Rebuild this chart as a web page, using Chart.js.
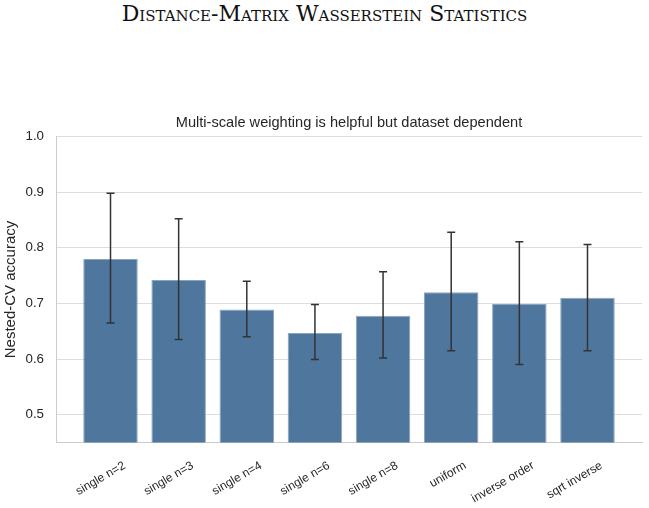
<!DOCTYPE html>
<html>
<head>
<meta charset="utf-8">
<script src="https://cdn.jsdelivr.net/npm/chart.js@4/dist/chart.umd.min.js"></script>
<style>
  body { margin: 0; background: #fff; }
  #wrap { position: relative; width: 649px; height: 508px; }
  #bigTitle {
    position: absolute; top: 1px; left: 0; width: 649px; text-align: center;
    font-family: "DejaVu Serif", "Liberation Serif", serif; font-variant: small-caps;
    font-size: 22px; color: #111;
  }
  canvas { position: absolute; top: 0; left: 0; }
</style>
</head>
<body>
<div id="wrap">
  <div id="bigTitle">Distance-Matrix Wasserstein Statistics</div>
  <canvas id="accChart" width="649" height="508"></canvas>
</div>
<script>
const categories = ['single n=2', 'single n=3', 'single n=4', 'single n=6', 'single n=8', 'uniform', 'inverse order', 'sqrt inverse'];
const accuracy = [0.780, 0.742, 0.689, 0.647, 0.678, 0.720, 0.699, 0.710];
const errLow = [0.665, 0.635, 0.640, 0.599, 0.602, 0.615, 0.590, 0.615];
const errHigh = [0.898, 0.852, 0.740, 0.698, 0.757, 0.828, 0.811, 0.806];
const yTicks = [0.5, 0.6, 0.7, 0.8, 0.9, 1.0];

// error bars drawn with the chart's own scales
const errorBars = {
    id: 'errorBars',
    afterDatasetsDraw(chart) {
        const ctx = chart.ctx;
        const x = chart.scales.x, y = chart.scales.y;
        ctx.save();
        ctx.strokeStyle = '#333333';
        ctx.lineWidth = 1.5;
        for (let i = 0; i < categories.length; i++) {
            const px = x.getPixelForValue(i);
            const lo = y.getPixelForValue(errLow[i]);
            const hi = y.getPixelForValue(errHigh[i]);
            ctx.beginPath();
            ctx.moveTo(px, lo); ctx.lineTo(px, hi);
            ctx.moveTo(px - 4, lo); ctx.lineTo(px + 4, lo);
            ctx.moveTo(px - 4, hi); ctx.lineTo(px + 4, hi);
            ctx.stroke();
        }
        ctx.restore();
    }
};

const ctx = document.getElementById('accChart').getContext('2d');
new Chart(ctx, {
    type: 'bar',
    data: {
        datasets: [{
            data: categories.map((c, i) => ({ x: i, y: accuracy[i] })),
            backgroundColor: '#4f769c',
            borderColor: '#8aa5c2',
            borderWidth: 1,
            categoryPercentage: 1,
            barPercentage: 0.8
        }]
    },
    plugins: [errorBars],
    options: {
        responsive: false,
        animation: false,
        layout: { padding: { top: 114, right: 7, left: 2, bottom: -6 } },
        plugins: {
            legend: { display: false },
            tooltip: { enabled: false },
            title: {
                display: true,
                fullSize: false,
                text: 'Multi-scale weighting is helpful but dataset dependent',
                color: '#262626',
                font: { family: 'Liberation Sans, Arial, sans-serif', size: 14.6, weight: 'normal' },
                padding: { top: 0, bottom: 5 }
            }
        },
        scales: {
            x: {
                type: 'linear',
                offset: false,
                min: -0.8,
                max: 7.8,
                afterFit: scale => { scale.paddingLeft = 0; scale.paddingRight = 0; },
                grid: { display: false },
                border: { color: '#cccccc', width: 1 },
                ticks: {
                    stepSize: 1,
                    includeBounds: false,
                    autoSkip: false,
                    minRotation: 30,
                    maxRotation: 30,
                    labelOffset: 14,
                    padding: 8,
                    color: '#262626',
                    font: { family: 'Liberation Sans, Arial, sans-serif', size: 12 },
                    callback: v => categories[v] ?? ''
                }
            },
            y: {
                min: 0.45,
                max: 1.0,
                afterBuildTicks: axis => { axis.ticks = yTicks.map(v => ({ value: v })); },
                afterFit: scale => { scale.width = 54; },
                grid: { color: '#dddddd', lineWidth: 1, drawTicks: false },
                border: { color: '#cccccc', width: 1 },
                ticks: {
                    padding: 12,
                    color: '#262626',
                    font: { family: 'Liberation Sans, Arial, sans-serif', size: 13.3 },
                    callback: v => v.toFixed(1)
                },
                title: {
                    display: true,
                    text: 'Nested-CV accuracy',
                    color: '#262626',
                    font: { family: 'Liberation Sans, Arial, sans-serif', size: 15 },
                    padding: { top: 0, bottom: 4 }
                }
            }
        }
    }
});
</script>
</body>
</html>
